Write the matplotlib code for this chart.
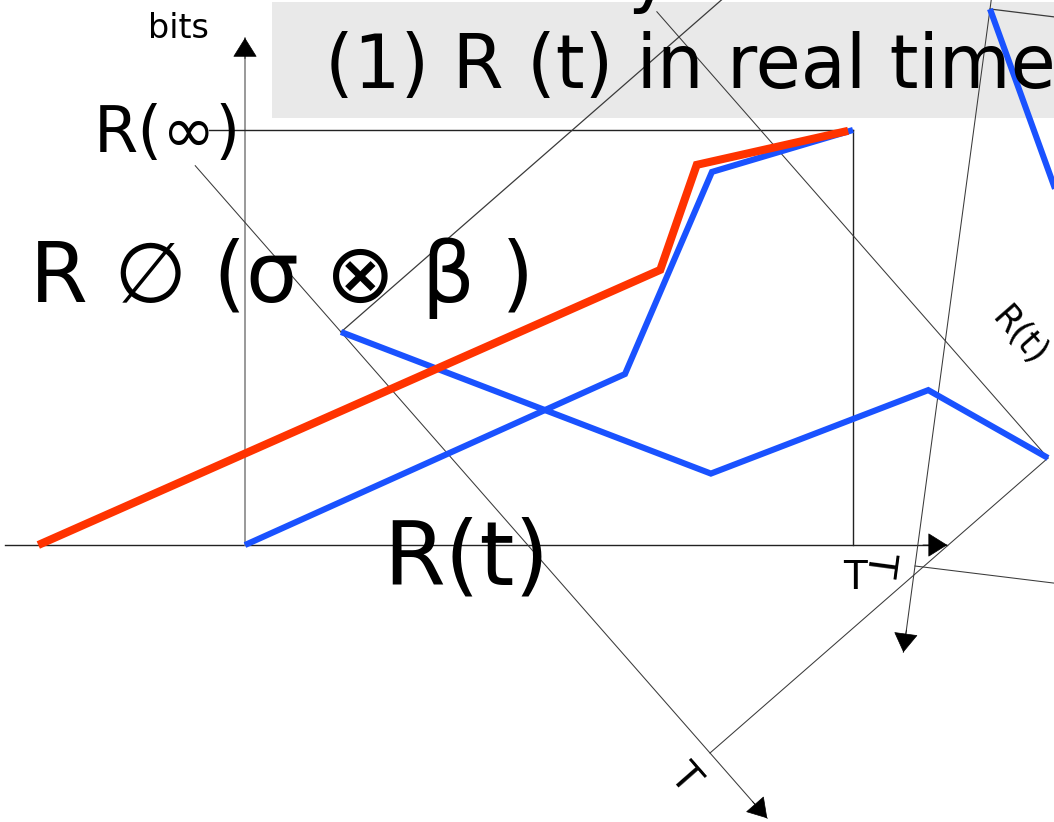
import numpy as np
import matplotlib
matplotlib.use("Agg")
import matplotlib.pyplot as plt
from matplotlib.transforms import Affine2D
from matplotlib.patches import Rectangle

# Time in units of T, accumulated bits in units of R(inf)
t_fast = [-0.34, 0.683, 0.743, 0.992]
r_fast = [0.0, 0.663, 0.916, 0.998]
t_real = [0.0, 0.625, 0.768, 1.0]
r_real = [0.0, 0.412, 0.899, 1.0]

# Axis extents in the same units
t_axis = [-0.395, 1.155]
r_axis = [0.0, 1.222]
r_inf_span = [-0.06, 1.0]
t_label_pos = (1.003, -0.08)

title = "(1) R (t) in real time"
formula = "R \u2205 (\u03c3 \u2297 \u03b2 )"
y_label = "bits"
r_inf_label = "R(\u221e)"
rt_label = "R(t)"
t_label = "T"

RED = "#ff3300"
BLUE = "#1a52ff"

W, H = 1054, 822
fig = plt.figure(figsize=(W / 100, H / 100), dpi=100)
ax = fig.add_axes([0, 0, 1, 1])
ax.set_xlim(0, W)
ax.set_ylim(H, 0)
ax.axis("off")
plt.rcParams["font.family"] = ["DejaVu Sans"]


def frame(origin, u, v):
    """Map (time, bits) onto the canvas with an affine frame."""
    return Affine2D.from_values(u[0], u[1], v[0], v[1], origin[0], origin[1]) + ax.transData


def angle(u):
    return np.degrees(np.arctan2(-u[1], u[0]))


frames = [
    dict(origin=(245, 545), u=(608, 0), v=(0, -415), lw=1.0, color="#222222", ycolor="#888888"),
    dict(origin=(341, 332), u=(369, 421), v=(338, -295), lw=0.75, color="#3a3a3a", ycolor="#3a3a3a"),
    dict(origin=(990, 9), u=(-75, 557), v=(439, 54), lw=0.75, color="#3a3a3a", ycolor="#3a3a3a"),
]
for f in frames:
    f["tf"] = frame(f["origin"], f["u"], f["v"])
    f["rot"] = angle(f["u"])

# title banner
ax.add_patch(Rectangle((272, 2), 800, 116, facecolor="#e9e9e9", edgecolor="none", zorder=0))

head_kw = dict(arrowstyle="-|>,head_length=0.4,head_width=0.25", mutation_scale=32,
               shrinkA=0, shrinkB=0, lw=0.5, color="black")

for f in frames:
    tf = f["tf"]
    # time axis with arrowhead
    ax.plot(t_axis, [0, 0], transform=tf, color=f["color"], lw=f["lw"], zorder=2)
    ax.annotate("", xy=(t_axis[1], 0), xytext=(t_axis[1] - 0.04, 0), xycoords=tf, textcoords=tf,
                arrowprops=head_kw, zorder=2)
    # bits axis with arrowhead
    ax.plot([0, 0], r_axis, transform=tf, color=f["ycolor"], lw=f["lw"] * 1.2, zorder=2)
    ax.annotate("", xy=(0, r_axis[1]), xytext=(0, r_axis[1] - 0.05), xycoords=tf, textcoords=tf,
                arrowprops=head_kw, zorder=2)
    # R(inf) level and T deadline
    ax.plot(r_inf_span, [1, 1], transform=tf, color=f["color"], lw=f["lw"], zorder=2)
    ax.plot([1, 1], [0, 1], transform=tf, color=f["color"], lw=f["lw"], zorder=2)
    # real-time curve
    ax.plot(t_real, r_real, transform=tf, color=BLUE, lw=4.4,
            solid_capstyle="butt", solid_joinstyle="miter", zorder=3)
    # deadline label
    ax.text(*t_label_pos, t_label, transform=tf, rotation=f["rot"], rotation_mode="anchor",
            ha="center", va="center", fontsize=28, zorder=4)

# faster curve only in the upright frame
ax.plot(t_fast, r_fast, transform=frames[0]["tf"], color=RED, lw=5.8,
        solid_capstyle="butt", solid_joinstyle="miter", zorder=4)

# text
ax.text(325, 88, title, fontsize=53, ha="left", va="baseline", zorder=5)
ax.text(650, -2, "y", fontsize=53, ha="center", va="baseline", zorder=5)
ax.text(178, 28, y_label, fontsize=24, ha="center", va="center", zorder=5)
ax.text(167, 134, r_inf_label, fontsize=46, ha="center", va="center", zorder=5)
ax.text(282, 278, formula, fontsize=60, ha="center", va="center", zorder=5)
ax.text(466, 560, rt_label, fontsize=64, ha="center", va="center", zorder=5)
ax.text(1019, 336, rt_label, fontsize=25, rotation=frames[1]["rot"], rotation_mode="anchor",
        ha="center", va="center", zorder=5)

fig.savefig("out.png", dpi=100)
